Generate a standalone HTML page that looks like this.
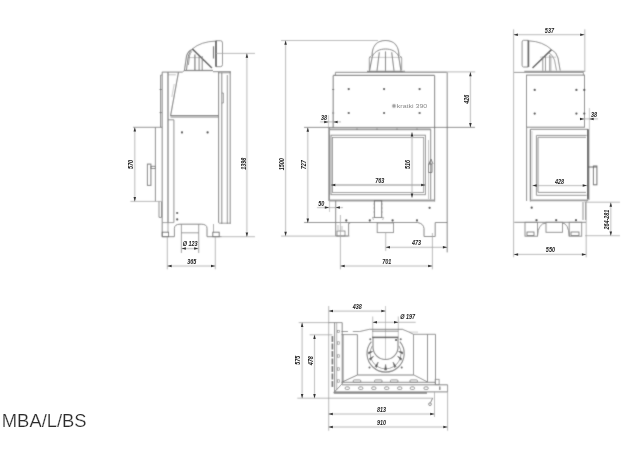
<!DOCTYPE html>
<html><head><meta charset="utf-8"><style>
html,body{margin:0;padding:0;background:#fff;}
body{width:624px;height:460px;overflow:hidden;}
svg{display:block;font-family:"Liberation Sans",sans-serif;}
.wrap{width:624px;height:460px;}
</style></head><body><div class="wrap">
<svg width="624" height="460" viewBox="0 0 624 460">
<defs><filter id="b" x="0" y="0" width="624" height="460" filterUnits="userSpaceOnUse"><feConvolveMatrix order="3" kernelMatrix="0.03 0.09 0.03 0.09 0.52 0.09 0.03 0.09 0.03" edgeMode="none"/></filter></defs>
<rect width="624" height="460" fill="#fff"/>
<g filter="url(#b)">
<rect width="624" height="460" fill="#fff"/>
<path d="M184.4 70.5 L186.5 56 Q188 51 192 49.4" fill="none" stroke="#808080" stroke-width="1.1"/><path d="M186.4 70.5 L188.3 56 Q189.5 52 191.5 50.8" fill="none" stroke="#808080" stroke-width="1.0"/><path d="M188.4 65 L189.5 56 Q190.2 53 191.7 51.7" fill="none" stroke="#808080" stroke-width="0.8"/><path d="M192.3 48.9 Q201 41.5 215.8 41.1" fill="none" stroke="#808080" stroke-width="0.9"/><line x1="192.3" y1="48.9" x2="211.9" y2="68" stroke="#555" stroke-width="1.5"/><line x1="194.9" y1="54.5" x2="194.9" y2="70.7" stroke="#808080" stroke-width="1.3"/><line x1="199.1" y1="56.2" x2="199.1" y2="70.7" stroke="#808080" stroke-width="1.0"/><line x1="202.2" y1="56.2" x2="202.2" y2="70.7" stroke="#808080" stroke-width="1.0"/><line x1="188" y1="57.6" x2="202" y2="57.6" stroke="#808080" stroke-width="0.5"/><line x1="184" y1="70.5" x2="213" y2="70.5" stroke="#808080" stroke-width="1.3"/><path d="M216 40.7 L220.5 40.7 Q222.5 40.7 222.5 43 L222.5 64.5 Q222.5 66.7 220.5 66.7 L216 66.7" fill="none" stroke="#808080" stroke-width="0.9"/><line x1="216" y1="40.7" x2="216" y2="66.7" stroke="#555" stroke-width="1.8"/><line x1="213.5" y1="46.3" x2="213.5" y2="58.5" stroke="#666" stroke-width="1.2"/><line x1="162.2" y1="72.1" x2="182.4" y2="72.1" stroke="#808080" stroke-width="1.0"/><line x1="182.4" y1="72.1" x2="184" y2="70.8" stroke="#808080" stroke-width="0.9"/><line x1="213" y1="71.7" x2="230.9" y2="71.7" stroke="#808080" stroke-width="1.0"/><line x1="218.5" y1="72.8" x2="230.9" y2="72.8" stroke="#808080" stroke-width="0.8"/><line x1="160.6" y1="75" x2="160.6" y2="127.3" stroke="#808080" stroke-width="1.0"/><line x1="160.6" y1="75" x2="162.2" y2="75" stroke="#808080" stroke-width="0.8"/><line x1="159.6" y1="89.5" x2="161.6" y2="89.5" stroke="#666" stroke-width="1.0"/><line x1="159.6" y1="112.6" x2="161.6" y2="112.6" stroke="#666" stroke-width="1.0"/><line x1="162.2" y1="71.9" x2="162.2" y2="236.7" stroke="#808080" stroke-width="1.0"/><line x1="168" y1="72" x2="168" y2="222.6" stroke="#808080" stroke-width="1.3"/><line x1="168" y1="74.8" x2="175.9" y2="74.8" stroke="#808080" stroke-width="0.5"/><line x1="173.9" y1="119.8" x2="173.9" y2="222.6" stroke="#808080" stroke-width="0.9"/><line x1="168" y1="119.8" x2="173.9" y2="119.8" stroke="#808080" stroke-width="0.9"/><line x1="178.5" y1="72.1" x2="170.5" y2="116.2" stroke="#808080" stroke-width="1.1"/><line x1="174.2" y1="84" x2="171.8" y2="97" stroke="#808080" stroke-width="0.4"/><line x1="170.5" y1="115.5" x2="219" y2="115.5" stroke="#808080" stroke-width="1.1"/><line x1="170.5" y1="117" x2="219" y2="117" stroke="#808080" stroke-width="1.1"/><line x1="218.6" y1="72" x2="218.6" y2="222.8" stroke="#808080" stroke-width="1.1"/><line x1="221.8" y1="72.8" x2="221.8" y2="224" stroke="#808080" stroke-width="1.0"/><line x1="227.3" y1="75" x2="227.3" y2="224" stroke="#808080" stroke-width="0.9"/><line x1="230.2" y1="71.7" x2="230.2" y2="224" stroke="#808080" stroke-width="1.0"/><path d="M221.8 93 L223.4 93 L223.4 103 L221.8 103" fill="none" stroke="#808080" stroke-width="0.8"/><line x1="133" y1="127.3" x2="162.1" y2="127.3" stroke="#808080" stroke-width="0.9"/><line x1="155.4" y1="127.3" x2="155.4" y2="201.4" stroke="#808080" stroke-width="1.0"/><line x1="130.4" y1="201.4" x2="160.9" y2="201.4" stroke="#a3a3a3" stroke-width="0.8"/><line x1="159" y1="201.4" x2="159" y2="217.4" stroke="#808080" stroke-width="0.9"/><line x1="161.5" y1="201.4" x2="161.5" y2="217.4" stroke="#808080" stroke-width="0.9"/><line x1="159" y1="217.4" x2="161.5" y2="217.4" stroke="#808080" stroke-width="0.9"/><rect x="147.4" y="164.1" width="3.5" height="21.30000000000001" fill="none" stroke="#777" stroke-width="1.0"/><rect x="150.9" y="166.3" width="4.5" height="2.1999999999999886" fill="none" stroke="#777" stroke-width="0.9"/><circle cx="182" cy="132.4" r="1.1" fill="#333"/><circle cx="207.6" cy="132.4" r="1.1" fill="#333"/><circle cx="177.2" cy="213" r="1.1" fill="#333"/><circle cx="177.2" cy="219.4" r="1.1" fill="#333"/><line x1="162.6" y1="222.6" x2="173.8" y2="222.6" stroke="#808080" stroke-width="0.8"/><line x1="218.9" y1="223.2" x2="230.5" y2="223.2" stroke="#808080" stroke-width="0.8"/><path d="M174.4 236.7 L174.4 228.3 Q174.6 224.2 180 224.2 L201.3 224.2 Q207 224.2 207 228.3 L207 236.7" fill="none" stroke="#808080" stroke-width="1.0"/><line x1="181.4" y1="224.2" x2="181.4" y2="253" stroke="#808080" stroke-width="0.8"/><line x1="198.7" y1="224.2" x2="198.7" y2="253" stroke="#808080" stroke-width="0.8"/><line x1="181.4" y1="232.8" x2="198.7" y2="232.8" stroke="#808080" stroke-width="0.8"/><line x1="162.2" y1="236.7" x2="174.4" y2="236.7" stroke="#808080" stroke-width="1.0"/><line x1="207" y1="236.7" x2="221.8" y2="236.7" stroke="#808080" stroke-width="1.0"/><rect x="162.2" y="232.2" width="6.400000000000006" height="4.5" fill="none" stroke="#666" stroke-width="0.9"/><rect x="212.8" y="232.2" width="6.399999999999977" height="4.5" fill="none" stroke="#666" stroke-width="0.9"/><line x1="168" y1="222.6" x2="168" y2="232.2" stroke="#808080" stroke-width="0.7"/><line x1="213.5" y1="224" x2="213.5" y2="232.2" stroke="#808080" stroke-width="0.7"/><line x1="134.8" y1="127.3" x2="134.8" y2="201.4" stroke="#a3a3a3" stroke-width="0.8"/><line x1="181.6" y1="248.6" x2="198.4" y2="248.6" stroke="#a3a3a3" stroke-width="0.8"/><line x1="167.3" y1="237" x2="167.3" y2="269.3" stroke="#a3a3a3" stroke-width="0.8"/><line x1="215.3" y1="237" x2="215.3" y2="269.3" stroke="#a3a3a3" stroke-width="0.8"/><line x1="167.3" y1="266" x2="215.3" y2="266" stroke="#a3a3a3" stroke-width="0.8"/><line x1="216" y1="53.4" x2="255" y2="53.4" stroke="#a3a3a3" stroke-width="0.8"/><line x1="222" y1="236.7" x2="255" y2="236.7" stroke="#a3a3a3" stroke-width="0.8"/><line x1="246.9" y1="53.4" x2="246.9" y2="236.7" stroke="#a3a3a3" stroke-width="0.8"/><path d="M372 56 C372 45.5 377.5 40.5 385.5 40.5 C393.5 40.5 399 45.5 399 56" fill="none" stroke="#808080" stroke-width="1.1"/><path d="M372.5 56 C375 51 380 49 385.5 49 C391 49 396 51 398.5 56" fill="none" stroke="#808080" stroke-width="1.0"/><line x1="372.5" y1="55.5" x2="369.5" y2="70.8" stroke="#808080" stroke-width="1.1"/><line x1="398.5" y1="55.5" x2="401" y2="70.8" stroke="#808080" stroke-width="1.1"/><line x1="379.3" y1="52.3" x2="377" y2="70.8" stroke="#808080" stroke-width="1.1"/><line x1="385.5" y1="51.4" x2="385.5" y2="70.8" stroke="#808080" stroke-width="1.1"/><line x1="391.7" y1="52.3" x2="394" y2="70.8" stroke="#808080" stroke-width="1.1"/><path d="M369.3 70 L369.3 58 Q369.5 56.4 371 56.4" fill="none" stroke="#808080" stroke-width="0.8"/><path d="M401.7 70 L401.7 58 Q401.5 56.4 400 56.4" fill="none" stroke="#808080" stroke-width="0.8"/><line x1="369" y1="57.4" x2="402" y2="57.4" stroke="#808080" stroke-width="0.4"/><line x1="367" y1="71.3" x2="405" y2="71.3" stroke="#808080" stroke-width="1.2"/><line x1="335.4" y1="72.3" x2="446.7" y2="72.3" stroke="#808080" stroke-width="1.0"/><line x1="335.4" y1="72.3" x2="335.4" y2="75.4" stroke="#808080" stroke-width="0.9"/><line x1="333.2" y1="75.4" x2="434.6" y2="75.4" stroke="#808080" stroke-width="1.1"/><line x1="333.2" y1="75.4" x2="333.2" y2="127.8" stroke="#808080" stroke-width="1.1"/><line x1="332.2" y1="89.5" x2="334.2" y2="89.5" stroke="#666" stroke-width="1.0"/><line x1="332.2" y1="113" x2="334.2" y2="113" stroke="#666" stroke-width="1.0"/><line x1="434.6" y1="75.4" x2="434.6" y2="201.5" stroke="#808080" stroke-width="1.1"/><line x1="447.2" y1="72.3" x2="447.2" y2="252.4" stroke="#808080" stroke-width="1.0"/><circle cx="348.7" cy="89.1" r="1.1" fill="#333"/><circle cx="348.7" cy="113" r="1.1" fill="#333"/><circle cx="384.1" cy="89.1" r="1.1" fill="#333"/><circle cx="419.6" cy="89.1" r="1.1" fill="#333"/><circle cx="384.1" cy="113" r="1.1" fill="#333"/><circle cx="419.6" cy="113" r="1.1" fill="#333"/><circle cx="394" cy="105.9" r="1.9" fill="#999"/><line x1="304" y1="127.4" x2="475" y2="127.4" stroke="#777" stroke-width="0.9"/><line x1="329.1" y1="127.4" x2="329.1" y2="200.9" stroke="#666" stroke-width="1.3"/><line x1="329.1" y1="129.3" x2="430.7" y2="129.3" stroke="#999" stroke-width="1.7"/><rect x="331" y="135.2" width="94.39999999999998" height="59.5" fill="none" stroke="#808080" stroke-width="0.9"/><rect x="332.5" y="137.4" width="91.19999999999999" height="55.099999999999994" fill="none" stroke="#808080" stroke-width="0.8"/><line x1="430.7" y1="129.3" x2="430.7" y2="199.5" stroke="#808080" stroke-width="1.0"/><line x1="428.5" y1="140" x2="428.5" y2="199" stroke="#808080" stroke-width="0.5"/><line x1="329.1" y1="200.6" x2="434.6" y2="200.6" stroke="#999" stroke-width="2.0"/><path d="M428.5 164 L432 164 L432 172.5 L428.5 172.5 Z M429 164 L431 159 L433 164" fill="none" stroke="#666" stroke-width="0.9"/><circle cx="357" cy="129.3" r="0.7" fill="#777"/><circle cx="377" cy="129.3" r="0.7" fill="#777"/><circle cx="397" cy="129.3" r="0.7" fill="#777"/><circle cx="417" cy="129.3" r="0.7" fill="#777"/><rect x="374.4" y="200.7" width="7.300000000000011" height="16.80000000000001" fill="none" stroke="#666" stroke-width="1.0"/><line x1="372.5" y1="217.5" x2="383.6" y2="217.5" stroke="#808080" stroke-width="0.6"/><line x1="372.5" y1="217.5" x2="373.5" y2="220" stroke="#808080" stroke-width="0.6"/><line x1="383.6" y1="217.5" x2="382.6" y2="220" stroke="#808080" stroke-width="0.6"/><line x1="373.6" y1="204" x2="374.4" y2="204" stroke="#808080" stroke-width="0.8"/><line x1="381.7" y1="204" x2="382.5" y2="204" stroke="#808080" stroke-width="0.8"/><line x1="373.6" y1="208" x2="374.4" y2="208" stroke="#808080" stroke-width="0.8"/><line x1="381.7" y1="208" x2="382.5" y2="208" stroke="#808080" stroke-width="0.8"/><line x1="373.6" y1="212" x2="374.4" y2="212" stroke="#808080" stroke-width="0.8"/><line x1="381.7" y1="212" x2="382.5" y2="212" stroke="#808080" stroke-width="0.8"/><line x1="304" y1="222.5" x2="417.6" y2="222.5" stroke="#808080" stroke-width="1.0"/><path d="M417.6 222.5 Q423.5 223.5 424 228.5 L424 236.5 L435.2 236.5 L435.2 222.5 L447.2 222.5" fill="none" stroke="#808080" stroke-width="1.0"/><rect x="377.2" y="222.9" width="16.30000000000001" height="9.699999999999989" fill="none" stroke="#808080" stroke-width="0.9"/><path d="M335.7 200.7 L335.7 236 L348.6 236 L348.6 223.5 L350.3 222.9" fill="none" stroke="#808080" stroke-width="1.0"/><rect x="337" y="231" width="8" height="5" fill="none" stroke="#666" stroke-width="0.7"/><line x1="338" y1="225" x2="338" y2="230" stroke="#808080" stroke-width="0.5"/><line x1="342" y1="226" x2="342" y2="230" stroke="#808080" stroke-width="0.5"/><circle cx="346.3" cy="220.4" r="1.1" fill="#333"/><circle cx="369.8" cy="220.4" r="1.1" fill="#333"/><circle cx="392.6" cy="220.4" r="1.1" fill="#333"/><circle cx="417" cy="220.4" r="1.1" fill="#333"/><circle cx="429.6" cy="207.8" r="1.1" fill="#333"/><line x1="281" y1="40.5" x2="378" y2="40.5" stroke="#a3a3a3" stroke-width="0.8"/><line x1="281" y1="236.1" x2="349.6" y2="236.1" stroke="#a3a3a3" stroke-width="0.8"/><line x1="285.6" y1="40.5" x2="285.6" y2="236.1" stroke="#a3a3a3" stroke-width="0.8"/><line x1="307.8" y1="127.4" x2="307.8" y2="222.9" stroke="#a3a3a3" stroke-width="0.8"/><line x1="320" y1="121.9" x2="341" y2="121.9" stroke="#a3a3a3" stroke-width="0.8"/><line x1="333.3" y1="110" x2="333.3" y2="127.4" stroke="#a3a3a3" stroke-width="0.6"/><line x1="328.5" y1="115" x2="328.5" y2="127.4" stroke="#a3a3a3" stroke-width="0.6"/><line x1="331" y1="185" x2="425.4" y2="185" stroke="#888" stroke-width="1.2"/><line x1="412" y1="132.2" x2="412" y2="197.8" stroke="#a3a3a3" stroke-width="0.8"/><line x1="317" y1="207.6" x2="343" y2="207.6" stroke="#a3a3a3" stroke-width="0.8"/><line x1="329.5" y1="200" x2="329.5" y2="212" stroke="#a3a3a3" stroke-width="0.6"/><line x1="340.4" y1="215" x2="340.4" y2="269.3" stroke="#a3a3a3" stroke-width="0.8"/><line x1="432.4" y1="233" x2="432.4" y2="269.3" stroke="#a3a3a3" stroke-width="0.8"/><line x1="340.4" y1="266" x2="432.4" y2="266" stroke="#a3a3a3" stroke-width="0.8"/><line x1="385.7" y1="232.4" x2="385.7" y2="251" stroke="#a3a3a3" stroke-width="0.8"/><line x1="385.7" y1="247.3" x2="447.2" y2="247.3" stroke="#a3a3a3" stroke-width="0.8"/><line x1="403" y1="71.9" x2="475.2" y2="71.9" stroke="#a3a3a3" stroke-width="0.8"/><line x1="470.4" y1="71.9" x2="470.4" y2="127.4" stroke="#a3a3a3" stroke-width="0.8"/><line x1="513.6" y1="29.3" x2="513.6" y2="257.3" stroke="#a3a3a3" stroke-width="0.8"/><line x1="584.8" y1="29.3" x2="584.8" y2="72" stroke="#a3a3a3" stroke-width="0.8"/><line x1="513.6" y1="34.7" x2="584.5" y2="34.7" stroke="#a3a3a3" stroke-width="0.8"/><path d="M528.4 40.3 L523.5 40.3 Q522.1 40.3 522.1 42 L522.1 65.3 Q522.1 67 523.5 67 L528.4 67" fill="none" stroke="#808080" stroke-width="0.9"/><line x1="528.4" y1="40.3" x2="528.4" y2="67" stroke="#555" stroke-width="1.7"/><path d="M529.2 40.9 Q543 41.5 551.5 49.6" fill="none" stroke="#808080" stroke-width="0.9"/><line x1="551.5" y1="49.6" x2="532.5" y2="68" stroke="#555" stroke-width="1.5"/><path d="M551.5 49.6 Q556.5 52 558 58 L560.2 70.5" fill="none" stroke="#808080" stroke-width="1.0"/><path d="M548.5 52.5 Q553 55 554.5 60 L556.5 70.5" fill="none" stroke="#808080" stroke-width="0.8"/><line x1="542.8" y1="56.6" x2="542.8" y2="70.8" stroke="#808080" stroke-width="0.9"/><line x1="545.5" y1="55.5" x2="545.5" y2="70.8" stroke="#808080" stroke-width="0.9"/><line x1="549.8" y1="55" x2="549.8" y2="70.8" stroke="#808080" stroke-width="1.0"/><line x1="551" y1="56" x2="551" y2="70.8" stroke="#808080" stroke-width="0.5"/><line x1="540" y1="57.2" x2="556" y2="57.2" stroke="#808080" stroke-width="0.4"/><line x1="524.3" y1="71.3" x2="584.5" y2="71.3" stroke="#808080" stroke-width="1.0"/><line x1="514.1" y1="72.4" x2="583.4" y2="72.4" stroke="#808080" stroke-width="0.9"/><line x1="583.4" y1="72.4" x2="583.4" y2="75.1" stroke="#808080" stroke-width="0.8"/><rect x="526.5" y="75.1" width="58.0" height="52.10000000000001" fill="none" stroke="#808080" stroke-width="1.0"/><circle cx="534.7" cy="89.9" r="1.1" fill="#333"/><circle cx="576.4" cy="89.9" r="1.1" fill="#333"/><circle cx="584.3" cy="89.9" r="1.1" fill="#333"/><circle cx="534.7" cy="113.6" r="1.1" fill="#333"/><circle cx="576.4" cy="113.6" r="1.1" fill="#333"/><circle cx="584.3" cy="113.6" r="1.1" fill="#333"/><line x1="589.4" y1="108" x2="589.4" y2="200" stroke="#a3a3a3" stroke-width="0.6"/><line x1="579.6" y1="118.9" x2="598" y2="118.9" stroke="#a3a3a3" stroke-width="0.8"/><line x1="526.6" y1="127.2" x2="526.6" y2="201" stroke="#808080" stroke-width="1.0"/><line x1="532" y1="131" x2="532" y2="199" stroke="#808080" stroke-width="0.4"/><line x1="530.4" y1="129.3" x2="588.2" y2="129.3" stroke="#999" stroke-width="1.2"/><line x1="530.4" y1="129.3" x2="530.4" y2="201.2" stroke="#777" stroke-width="1.2"/><line x1="587.9" y1="129.3" x2="587.9" y2="199.5" stroke="#555" stroke-width="1.8"/><path d="M586.5 135.4 L536.4 135.4 L536.4 195.3 L586.5 195.3" fill="none" stroke="#808080" stroke-width="0.9"/><path d="M586 137.3 L538 137.3 L538 192.4 L586 192.4" fill="none" stroke="#808080" stroke-width="0.9"/><line x1="530" y1="200.4" x2="588.2" y2="200.4" stroke="#999" stroke-width="1.8"/><rect x="593.4" y="166" width="3.5" height="18.80000000000001" fill="none" stroke="#666" stroke-width="1.0"/><line x1="588.2" y1="167" x2="597" y2="167" stroke="#666" stroke-width="1.0"/><line x1="532.4" y1="185.6" x2="587" y2="185.6" stroke="#a3a3a3" stroke-width="0.8"/><line x1="583" y1="202" x2="583" y2="220" stroke="#808080" stroke-width="0.9"/><line x1="585.6" y1="202" x2="585.6" y2="220" stroke="#808080" stroke-width="0.9"/><line x1="514.3" y1="222.3" x2="586" y2="222.3" stroke="#808080" stroke-width="1.0"/><rect x="525" y="222.3" width="12.5" height="13.899999999999977" fill="none" stroke="#808080" stroke-width="0.9"/><rect x="569.2" y="222.3" width="12.5" height="13.899999999999977" fill="none" stroke="#808080" stroke-width="0.9"/><rect x="527" y="232" width="7" height="3.5" fill="none" stroke="#666" stroke-width="0.8"/><rect x="571" y="232" width="8" height="3.5" fill="none" stroke="#666" stroke-width="0.8"/><path d="M537.5 236.2 Q538 223.5 546 223" fill="none" stroke="#808080" stroke-width="0.9"/><path d="M569.2 236.2 Q568.5 223.5 562.5 223" fill="none" stroke="#808080" stroke-width="0.9"/><rect x="546" y="222.3" width="16.5" height="10.0" fill="none" stroke="#808080" stroke-width="0.9"/><circle cx="531.7" cy="207.7" r="1.1" fill="#333"/><circle cx="536.5" cy="220.2" r="1.1" fill="#333"/><circle cx="556.2" cy="220.2" r="1.1" fill="#333"/><circle cx="576" cy="220.2" r="1.1" fill="#333"/><line x1="586.2" y1="200" x2="586.2" y2="257.3" stroke="#a3a3a3" stroke-width="0.8"/><line x1="513.8" y1="254.4" x2="586.2" y2="254.4" stroke="#a3a3a3" stroke-width="0.8"/><line x1="584.6" y1="202.2" x2="620" y2="202.2" stroke="#a3a3a3" stroke-width="0.8"/><line x1="585" y1="235.7" x2="620" y2="235.7" stroke="#a3a3a3" stroke-width="0.8"/><line x1="610.8" y1="202.4" x2="610.8" y2="235.7" stroke="#a3a3a3" stroke-width="0.8"/><line x1="328.7" y1="306" x2="328.7" y2="430.7" stroke="#a3a3a3" stroke-width="0.8"/><line x1="328.7" y1="311.1" x2="385.6" y2="311.1" stroke="#a3a3a3" stroke-width="0.8"/><line x1="385.5" y1="306" x2="385.5" y2="360" stroke="#a3a3a3" stroke-width="0.6"/><line x1="372.7" y1="316.5" x2="372.7" y2="337" stroke="#a3a3a3" stroke-width="0.7"/><line x1="398.3" y1="316.5" x2="398.3" y2="337" stroke="#a3a3a3" stroke-width="0.7"/><line x1="372.7" y1="322.3" x2="415.7" y2="322.3" stroke="#a3a3a3" stroke-width="0.8"/><line x1="298.7" y1="322.6" x2="328.5" y2="322.6" stroke="#a3a3a3" stroke-width="0.8"/><line x1="297.3" y1="398.2" x2="433.2" y2="398.2" stroke="#a3a3a3" stroke-width="0.8"/><line x1="302.1" y1="322.6" x2="302.1" y2="398.2" stroke="#a3a3a3" stroke-width="0.8"/><line x1="314.5" y1="334.8" x2="314.5" y2="398.2" stroke="#a3a3a3" stroke-width="0.8"/><line x1="328.5" y1="322.6" x2="342.2" y2="322.6" stroke="#808080" stroke-width="0.9"/><line x1="309.6" y1="334.8" x2="332.4" y2="334.8" stroke="#a3a3a3" stroke-width="0.8"/><line x1="334.6" y1="322.6" x2="334.6" y2="392.5" stroke="#808080" stroke-width="1.0"/><line x1="336.7" y1="322.6" x2="336.7" y2="390" stroke="#808080" stroke-width="0.6"/><line x1="342.2" y1="322.6" x2="342.2" y2="384" stroke="#808080" stroke-width="1.0"/><line x1="332.4" y1="336" x2="332.4" y2="387" stroke="#666" stroke-width="1.6" stroke-dasharray="6 1.5"/><rect x="337.6" y="330.3" width="2.0" height="2.3999999999999773" fill="none" stroke="#777" stroke-width="0.6"/><rect x="337.6" y="341.8" width="2.0" height="2.3999999999999773" fill="none" stroke="#777" stroke-width="0.6"/><rect x="337.6" y="354.8" width="2.0" height="2.3999999999999773" fill="none" stroke="#777" stroke-width="0.6"/><rect x="337.6" y="367.8" width="2.0" height="2.3999999999999773" fill="none" stroke="#777" stroke-width="0.6"/><rect x="337.6" y="379.8" width="2.0" height="2.3999999999999773" fill="none" stroke="#777" stroke-width="0.6"/><line x1="341.5" y1="331.5" x2="348" y2="331.5" stroke="#808080" stroke-width="0.9"/><line x1="352.8" y1="331.5" x2="359.8" y2="331.5" stroke="#808080" stroke-width="0.9"/><line x1="359.8" y1="331.5" x2="369.3" y2="329.3" stroke="#808080" stroke-width="0.9"/><line x1="341.5" y1="334.6" x2="357.4" y2="334.6" stroke="#808080" stroke-width="0.9"/><line x1="343.1" y1="334.6" x2="343.1" y2="382.3" stroke="#808080" stroke-width="0.9"/><line x1="357.4" y1="334.6" x2="357.4" y2="375" stroke="#808080" stroke-width="1.0"/><line x1="357.4" y1="375" x2="341.6" y2="382.3" stroke="#808080" stroke-width="1.0"/><line x1="342.1" y1="383.8" x2="333.8" y2="392.6" stroke="#808080" stroke-width="1.0"/><line x1="357.4" y1="375" x2="413.7" y2="375" stroke="#808080" stroke-width="1.0"/><line x1="369.3" y1="329.3" x2="402.9" y2="329.3" stroke="#808080" stroke-width="1.0"/><line x1="372" y1="331.2" x2="398.4" y2="331.2" stroke="#808080" stroke-width="0.9"/><line x1="372" y1="337.4" x2="398.4" y2="337.4" stroke="#555" stroke-width="1.5"/><path d="M402.9 329.5 L409.1 332.1 L413.5 334.3 L435.5 334.3" fill="none" stroke="#808080" stroke-width="0.9"/><line x1="409.1" y1="332.1" x2="418" y2="332.1" stroke="#808080" stroke-width="0.4"/><line x1="413.5" y1="334.3" x2="413.5" y2="374.8" stroke="#808080" stroke-width="0.9"/><line x1="413.5" y1="374.8" x2="427.4" y2="381.9" stroke="#808080" stroke-width="0.9"/><line x1="427.5" y1="334.3" x2="427.5" y2="381.9" stroke="#808080" stroke-width="1.0"/><line x1="435.5" y1="334.3" x2="435.5" y2="384.5" stroke="#808080" stroke-width="1.0"/><rect x="435.2" y="379.3" width="3.900000000000034" height="5.399999999999977" fill="none" stroke="#808080" stroke-width="0.8"/><path d="M399.85 341.54 A18.6 18.6 0 1 1 371.35 341.54" fill="none" stroke="#808080" stroke-width="1.1"/><path d="M398.94 345.80 A15.4 15.4 0 1 1 372.26 345.80" fill="none" stroke="#808080" stroke-width="0.8"/><path d="M373 337.4 L373 347 A12.5 12.5 0 0 0 398 347 L398 337.4" fill="none" stroke="#808080" stroke-width="1.1"/><path d="M398.60 351.50 L402.60 352.00 L402.60 354.00 Z" fill="#555" stroke="#555" stroke-width="0.6"/><path d="M397.65 356.37 L401.74 358.44 L400.99 360.30 Z" fill="#555" stroke="#555" stroke-width="0.6"/><path d="M393.06 362.15 L396.17 366.35 L394.53 367.50 Z" fill="#555" stroke="#555" stroke-width="0.6"/><path d="M385.60 364.50 L386.60 370.00 L384.60 370.00 Z" fill="#555" stroke="#555" stroke-width="0.6"/><path d="M378.14 362.15 L376.67 367.50 L375.03 366.35 Z" fill="#555" stroke="#555" stroke-width="0.6"/><path d="M373.55 356.37 L370.21 360.30 L369.46 358.44 Z" fill="#555" stroke="#555" stroke-width="0.6"/><path d="M372.60 351.50 L368.60 354.00 L368.60 352.00 Z" fill="#555" stroke="#555" stroke-width="0.6"/><circle cx="370.3" cy="339.2" r="1.0" fill="#555"/><circle cx="400.7" cy="339.2" r="1.0" fill="#555"/><circle cx="369.5" cy="367.5" r="1.0" fill="#555"/><circle cx="401.7" cy="367.5" r="1.0" fill="#555"/><circle cx="396" cy="340" r="1.1" fill="#444"/><line x1="341.6" y1="382.3" x2="435.2" y2="382.3" stroke="#808080" stroke-width="1.0"/><line x1="342" y1="384.8" x2="447.6" y2="384.8" stroke="#808080" stroke-width="1.0"/><line x1="333.8" y1="391.9" x2="447.6" y2="391.9" stroke="#808080" stroke-width="1.0"/><line x1="333.8" y1="393" x2="427" y2="393" stroke="#777" stroke-width="1.4"/><line x1="447.6" y1="384.8" x2="447.6" y2="391.9" stroke="#808080" stroke-width="0.9"/><rect x="345.1" y="386.9" width="4.4" height="2.6" rx="1.3" fill="none" stroke="#777" stroke-width="0.8"/><rect x="358.5" y="386.9" width="4.4" height="2.6" rx="1.3" fill="none" stroke="#777" stroke-width="0.8"/><rect x="371.6" y="386.9" width="4.4" height="2.6" rx="1.3" fill="none" stroke="#777" stroke-width="0.8"/><rect x="384.5" y="386.9" width="4.4" height="2.6" rx="1.3" fill="none" stroke="#777" stroke-width="0.8"/><rect x="397.5" y="386.9" width="4.4" height="2.6" rx="1.3" fill="none" stroke="#777" stroke-width="0.8"/><rect x="410.2" y="386.9" width="4.4" height="2.6" rx="1.3" fill="none" stroke="#777" stroke-width="0.8"/><rect x="423.90000000000003" y="386.9" width="4.4" height="2.6" rx="1.3" fill="none" stroke="#777" stroke-width="0.8"/><rect x="353.2" y="379.9" width="7.6" height="2.4" rx="1" fill="none" stroke="#777" stroke-width="0.8"/><rect x="374.5" y="379.9" width="7.6" height="2.4" rx="1" fill="none" stroke="#777" stroke-width="0.8"/><rect x="390.4" y="379.9" width="7.6" height="2.4" rx="1" fill="none" stroke="#777" stroke-width="0.8"/><rect x="409.9" y="379.9" width="7.6" height="2.4" rx="1" fill="none" stroke="#777" stroke-width="0.8"/><line x1="439.8" y1="386.5" x2="439.8" y2="390" stroke="#666" stroke-width="1.2"/><path d="M432.6 398.2 L430.6 402.6" fill="none" stroke="#666" stroke-width="0.9"/><circle cx="430" cy="404.2" r="1.4" fill="none" stroke="#666" stroke-width="0.8"/><line x1="328.5" y1="414" x2="434.5" y2="414" stroke="#a3a3a3" stroke-width="0.8"/><line x1="434.5" y1="391.9" x2="434.5" y2="417" stroke="#a3a3a3" stroke-width="0.8"/><line x1="447.6" y1="391.9" x2="447.6" y2="430.7" stroke="#a3a3a3" stroke-width="0.8"/><line x1="328.5" y1="427" x2="447.6" y2="427" stroke="#a3a3a3" stroke-width="0.8"/>
</g>
<g style="opacity:0.995">
<path d="M134.8 127.3 L133.55 131.6 L136.05 131.6 Z" fill="#333"/><path d="M134.8 201.4 L133.55 197.1 L136.05 197.1 Z" fill="#333"/><text transform="translate(130 164.5) rotate(-90) scale(0.7 1)" font-weight="bold" font-size="7.8" text-anchor="middle" dominant-baseline="central" fill="#1a1a1a" style="font-style:italic;">570</text><path d="M181.6 248.6 L185.9 247.35 L185.9 249.85 Z" fill="#333"/><path d="M198.4 248.6 L194.1 247.35 L194.1 249.85 Z" fill="#333"/><text transform="translate(190.2 242.7) scale(0.7 1)" font-weight="bold" font-size="7.8" text-anchor="middle" dominant-baseline="central" fill="#1a1a1a" style="font-style:italic;">Ø 123</text><path d="M167.3 266 L171.60000000000002 264.75 L171.60000000000002 267.25 Z" fill="#333"/><path d="M215.3 266 L211.0 264.75 L211.0 267.25 Z" fill="#333"/><text transform="translate(191.7 261.4) scale(0.7 1)" font-weight="bold" font-size="7.8" text-anchor="middle" dominant-baseline="central" fill="#1a1a1a" style="font-style:italic;">365</text><path d="M246.9 53.4 L245.65 57.699999999999996 L248.15 57.699999999999996 Z" fill="#333"/><path d="M246.9 236.7 L245.65 232.39999999999998 L248.15 232.39999999999998 Z" fill="#333"/><text transform="translate(242.7 163.7) rotate(-90) scale(0.7 1)" font-weight="bold" font-size="7.8" text-anchor="middle" dominant-baseline="central" fill="#1a1a1a" style="font-style:italic;">1398</text><text transform="translate(412 106.1) scale(1.35 1)" font-size="5.2" text-anchor="middle" dominant-baseline="central" fill="#888" style="">kratki 390</text><path d="M285.6 40.5 L284.35 44.8 L286.85 44.8 Z" fill="#333"/><path d="M285.6 236.1 L284.35 231.79999999999998 L286.85 231.79999999999998 Z" fill="#333"/><text transform="translate(281.4 164.2) rotate(-90) scale(0.7 1)" font-weight="bold" font-size="7.8" text-anchor="middle" dominant-baseline="central" fill="#1a1a1a" style="font-style:italic;">1500</text><path d="M307.8 127.4 L306.55 131.70000000000002 L309.05 131.70000000000002 Z" fill="#333"/><path d="M307.8 222.9 L306.55 218.6 L309.05 218.6 Z" fill="#333"/><text transform="translate(303.2 164.7) rotate(-90) scale(0.7 1)" font-weight="bold" font-size="7.8" text-anchor="middle" dominant-baseline="central" fill="#1a1a1a" style="font-style:italic;">727</text><path d="M328.5 121.9 L324.2 120.65 L324.2 123.15 Z" fill="#333"/><path d="M333.3 121.9 L337.6 120.65 L337.6 123.15 Z" fill="#333"/><text transform="translate(324 117) scale(0.7 1)" font-weight="bold" font-size="7.8" text-anchor="middle" dominant-baseline="central" fill="#1a1a1a" style="font-style:italic;">38</text><path d="M331 185 L335.3 183.75 L335.3 186.25 Z" fill="#333"/><path d="M425.4 185 L421.09999999999997 183.75 L421.09999999999997 186.25 Z" fill="#333"/><text transform="translate(379.8 179.9) scale(0.7 1)" font-weight="bold" font-size="7.8" text-anchor="middle" dominant-baseline="central" fill="#1a1a1a" style="font-style:italic;">763</text><path d="M412 132.2 L410.75 136.5 L413.25 136.5 Z" fill="#333"/><path d="M412 197.8 L410.75 193.5 L413.25 193.5 Z" fill="#333"/><text transform="translate(407.2 164.4) rotate(-90) scale(0.7 1)" font-weight="bold" font-size="7.8" text-anchor="middle" dominant-baseline="central" fill="#1a1a1a" style="font-style:italic;">516</text><path d="M329.1 207.6 L324.8 206.35 L324.8 208.85 Z" fill="#333"/><path d="M335.6 207.6 L339.90000000000003 206.35 L339.90000000000003 208.85 Z" fill="#333"/><text transform="translate(321.2 202.7) scale(0.7 1)" font-weight="bold" font-size="7.8" text-anchor="middle" dominant-baseline="central" fill="#1a1a1a" style="font-style:italic;">50</text><path d="M340.4 266 L344.7 264.75 L344.7 267.25 Z" fill="#333"/><path d="M432.4 266 L428.09999999999997 264.75 L428.09999999999997 267.25 Z" fill="#333"/><text transform="translate(386.7 261) scale(0.7 1)" font-weight="bold" font-size="7.8" text-anchor="middle" dominant-baseline="central" fill="#1a1a1a" style="font-style:italic;">701</text><path d="M385.7 247.3 L390.0 246.05 L390.0 248.55 Z" fill="#333"/><path d="M447.2 247.3 L442.9 246.05 L442.9 248.55 Z" fill="#333"/><text transform="translate(416.6 242.5) scale(0.7 1)" font-weight="bold" font-size="7.8" text-anchor="middle" dominant-baseline="central" fill="#1a1a1a" style="font-style:italic;">473</text><path d="M470.4 71.9 L469.15 76.2 L471.65 76.2 Z" fill="#333"/><path d="M470.4 127.4 L469.15 123.10000000000001 L471.65 123.10000000000001 Z" fill="#333"/><text transform="translate(465.9 99.2) rotate(-90) scale(0.7 1)" font-weight="bold" font-size="7.8" text-anchor="middle" dominant-baseline="central" fill="#1a1a1a" style="font-style:italic;">426</text><path d="M513.6 34.7 L517.9 33.45 L517.9 35.95 Z" fill="#333"/><path d="M584.5 34.7 L580.2 33.45 L580.2 35.95 Z" fill="#333"/><text transform="translate(549.4 30) scale(0.7 1)" font-weight="bold" font-size="7.8" text-anchor="middle" dominant-baseline="central" fill="#1a1a1a" style="font-style:italic;">537</text><path d="M584.3 118.9 L580.0 117.65 L580.0 120.15 Z" fill="#333"/><path d="M589.4 118.9 L593.6999999999999 117.65 L593.6999999999999 120.15 Z" fill="#333"/><text transform="translate(594.1 113.9) scale(0.7 1)" font-weight="bold" font-size="7.8" text-anchor="middle" dominant-baseline="central" fill="#1a1a1a" style="font-style:italic;">38</text><path d="M532.4 185.6 L536.6999999999999 184.35 L536.6999999999999 186.85 Z" fill="#333"/><path d="M587 185.6 L582.7 184.35 L582.7 186.85 Z" fill="#333"/><text transform="translate(559.5 180.7) scale(0.7 1)" font-weight="bold" font-size="7.8" text-anchor="middle" dominant-baseline="central" fill="#1a1a1a" style="font-style:italic;">428</text><path d="M513.8 254.4 L518.0999999999999 253.15 L518.0999999999999 255.65 Z" fill="#333"/><path d="M586.2 254.4 L581.9000000000001 253.15 L581.9000000000001 255.65 Z" fill="#333"/><text transform="translate(550.4 249.4) scale(0.7 1)" font-weight="bold" font-size="7.8" text-anchor="middle" dominant-baseline="central" fill="#1a1a1a" style="font-style:italic;">550</text><path d="M610.8 202.4 L609.55 206.70000000000002 L612.05 206.70000000000002 Z" fill="#333"/><path d="M610.8 235.7 L609.55 231.39999999999998 L612.05 231.39999999999998 Z" fill="#333"/><text transform="translate(606.5 219.6) rotate(-90) scale(0.7 1)" font-weight="bold" font-size="7.8" text-anchor="middle" dominant-baseline="central" fill="#1a1a1a" style="font-style:italic;">264-281</text><path d="M328.7 311.1 L333.0 309.85 L333.0 312.35 Z" fill="#333"/><path d="M385.6 311.1 L381.3 309.85 L381.3 312.35 Z" fill="#333"/><text transform="translate(357.3 306.5) scale(0.7 1)" font-weight="bold" font-size="7.8" text-anchor="middle" dominant-baseline="central" fill="#1a1a1a" style="font-style:italic;">438</text><path d="M372.7 322.3 L377.0 321.05 L377.0 323.55 Z" fill="#333"/><path d="M398.3 322.3 L394.0 321.05 L394.0 323.55 Z" fill="#333"/><text transform="translate(407.7 316.5) scale(0.7 1)" font-weight="bold" font-size="7.8" text-anchor="middle" dominant-baseline="central" fill="#1a1a1a" style="font-style:italic;">Ø 197</text><path d="M302.1 322.6 L300.85 326.90000000000003 L303.35 326.90000000000003 Z" fill="#333"/><path d="M302.1 398.2 L300.85 393.9 L303.35 393.9 Z" fill="#333"/><text transform="translate(297.2 360.2) rotate(-90) scale(0.7 1)" font-weight="bold" font-size="7.8" text-anchor="middle" dominant-baseline="central" fill="#1a1a1a" style="font-style:italic;">575</text><path d="M314.5 334.8 L313.25 339.1 L315.75 339.1 Z" fill="#333"/><path d="M314.5 398.2 L313.25 393.9 L315.75 393.9 Z" fill="#333"/><text transform="translate(309.8 360.8) rotate(-90) scale(0.7 1)" font-weight="bold" font-size="7.8" text-anchor="middle" dominant-baseline="central" fill="#1a1a1a" style="font-style:italic;">478</text><path d="M328.5 414 L332.8 412.75 L332.8 415.25 Z" fill="#333"/><path d="M434.5 414 L430.2 412.75 L430.2 415.25 Z" fill="#333"/><text transform="translate(381.6 409.3) scale(0.7 1)" font-weight="bold" font-size="7.8" text-anchor="middle" dominant-baseline="central" fill="#1a1a1a" style="font-style:italic;">813</text><path d="M328.5 427 L332.8 425.75 L332.8 428.25 Z" fill="#333"/><path d="M447.6 427 L443.3 425.75 L443.3 428.25 Z" fill="#333"/><text transform="translate(381.5 422.5) scale(0.7 1)" font-weight="bold" font-size="7.8" text-anchor="middle" dominant-baseline="central" fill="#1a1a1a" style="font-style:italic;">910</text>
<text x="1.8" y="427.3" font-size="18.4" fill="#2a2a2a" stroke="#fff" stroke-width="0.2" style="font-family:'Liberation Sans',sans-serif">MBA/L/BS</text>
</g>
</svg></div></body></html>
